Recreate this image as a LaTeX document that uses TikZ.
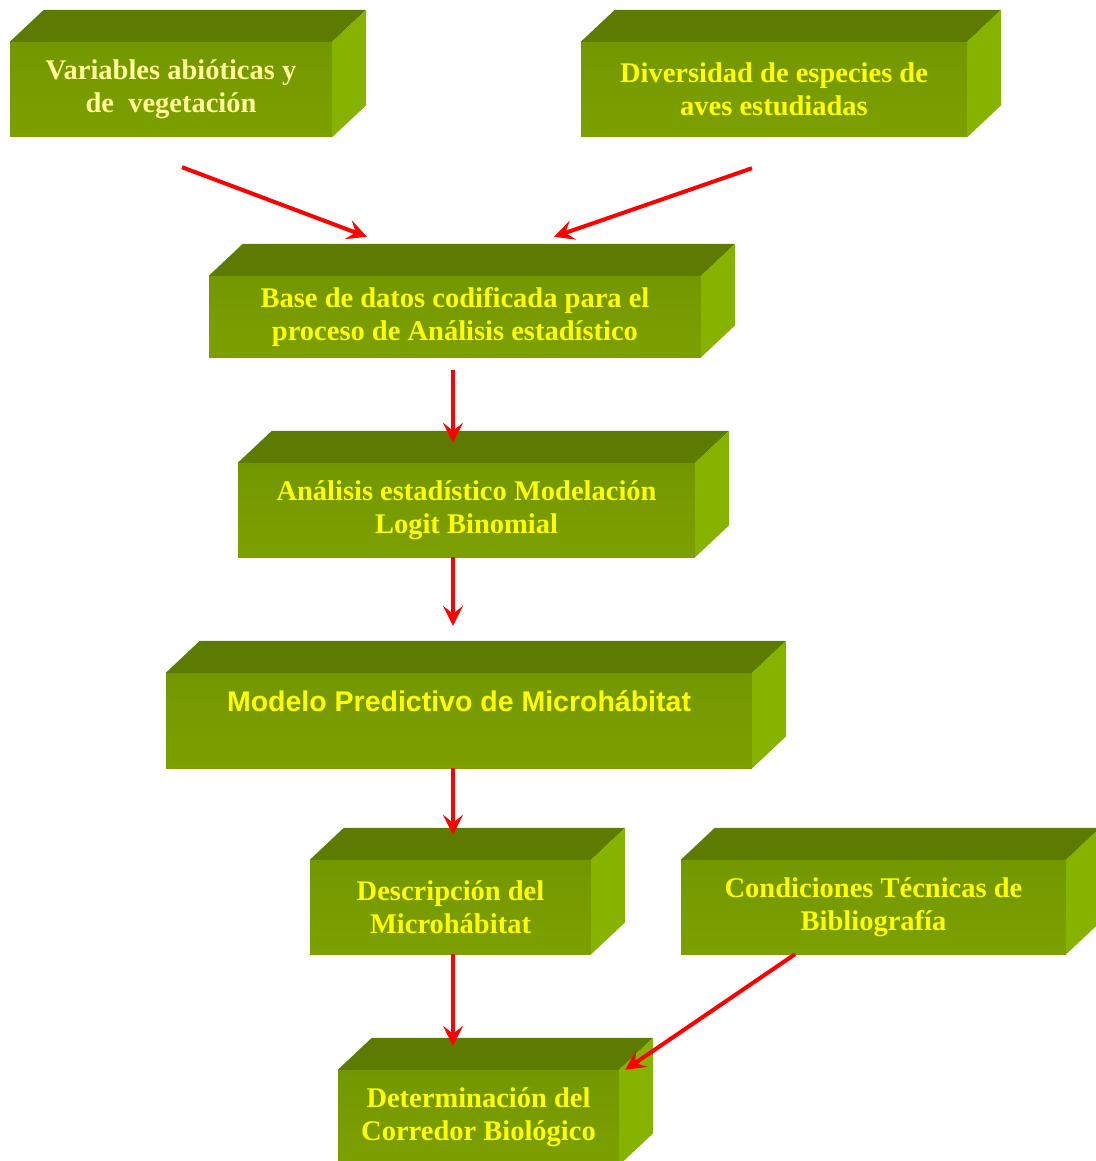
\documentclass[tikz,border=0pt]{standalone}
\usepackage{fontspec}
\setmainfont{Liberation Serif}
\setsansfont{Liberation Sans}
\usetikzlibrary{arrows.meta}

\definecolor{frentearriba}{HTML}{739700}
\definecolor{frenteabajo}{HTML}{7DA000}
\definecolor{tapa}{HTML}{5D7B00}
\definecolor{lado}{HTML}{86B300}
\definecolor{amarillo}{HTML}{FFFF00}
\definecolor{amarillopalido}{HTML}{FFFF99}
\definecolor{rojo}{HTML}{FF0000}

\begin{document}
\begin{tikzpicture}[x=1pt, y=-1pt,
  caja/.style={rectangle, inner sep=0pt, top color=frentearriba, bottom color=frenteabajo,
    align=center, text=amarillo, font=\bfseries\fontsize{28.5}{33}\selectfont},
  flecha/.style={draw=rojo, line width=4pt, -{Stealth[length=20pt,width=20pt,inset=8pt]}}]

\useasboundingbox[fill=white] (0,0) rectangle (1095,1161);

\node[caja, minimum width=322pt, minimum height=95pt, text=amarillopalido] (var) at (171,89.5)
  {Variables abióticas y\\de\ \ vegetación};
\node[caja, minimum width=386pt, minimum height=95pt] (div) at (774,89.5)
  {Diversidad de especies de\\aves estudiadas};
\node[caja, minimum width=492pt, minimum height=81pt] (base) at (455,316.5)
  {Base de datos codificada para el\\proceso de Análisis estadístico};
\node[caja, minimum width=457pt, minimum height=94pt] (anal) at (466.5,510)
  {Análisis estadístico Modelación\\Logit Binomial};
\node[caja, minimum width=586pt, minimum height=95pt, font=\sffamily\bfseries\fontsize{28.5}{39}\selectfont] (mod) at (459,720.5)
  {Modelo Predictivo de Microhábitat\\~};
\node[caja, minimum width=281pt, minimum height=94pt] (desc) at (450.5,907)
  {Descripción del\\Microhábitat};
\node[caja, minimum width=385pt, minimum height=94pt] (cond) at (873.5,907)
  {Condiciones Técnicas de\\Bibliografía};
\node[caja, minimum width=281pt, minimum height=95pt] (det) at (478.5,1117.5)
  {Determinación del\\Corredor Biológico};

% caras de arriba y de la derecha
\foreach \n in {var,div,base,anal,mod,desc,cond,det}{
  \fill[tapa] (\n.north west) -- ++(34,-32) -- ([shift={(34,-32)}]\n.north east) -- (\n.north east) -- cycle;
  \fill[lado] (\n.north east) -- ++(34,-32) -- ([shift={(34,-32)}]\n.south east) -- (\n.south east) -- cycle;
}

% flechas
\draw[flecha] ([xshift=11pt,yshift=-30pt]var.south) -- ([xshift=-88pt,yshift=39pt]base.north);
\draw[flecha] ([xshift=-22pt,yshift=-31pt]div.south) -- ([xshift=99pt,yshift=39pt]base.north);
\draw[flecha] ([xshift=-2pt,yshift=-13pt]base.south) -- ([xshift=-13.5pt,yshift=20pt]anal.north);
\draw[flecha] ([xshift=-13.5pt]anal.south) -- ([xshift=-6pt,yshift=47pt]mod.north);
\draw[flecha] ([xshift=-6pt]mod.south) -- ([xshift=2.5pt,yshift=25pt]desc.north);
\draw[flecha] ([xshift=2.5pt]desc.south) -- ([xshift=-25.5pt,yshift=24pt]det.north);
\draw[flecha] ([xshift=-78.5pt]cond.south) -- ([xshift=6pt]det.north east);

\end{tikzpicture}
\end{document}
